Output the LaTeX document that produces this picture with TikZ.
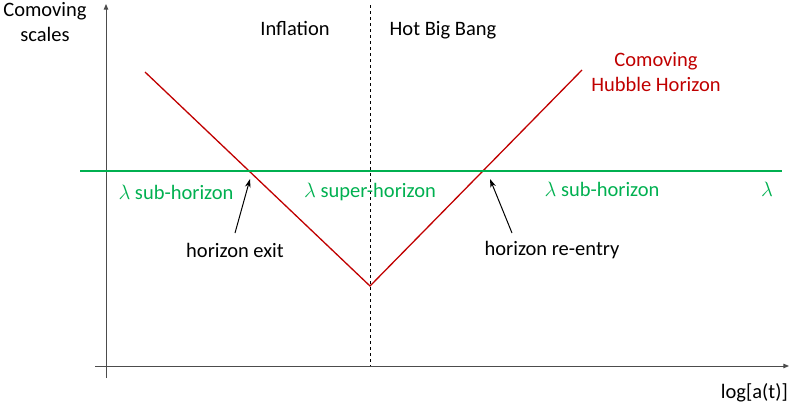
\documentclass[tikz,border=0pt]{standalone}
\usepackage{fontspec}
\setmainfont{Carlito}
\usetikzlibrary{arrows.meta,positioning,calc}
\definecolor{hubred}{RGB}{192,0,0}
\definecolor{scalegreen}{RGB}{0,176,80}
\tikzset{
axis/.style={-{Triangle[length=2mm,width=1.6mm]},line width=1pt,black!70},
label/.style={inner sep=0pt,align=center,font=\fontsize{20.5}{25}\selectfont},
horizon/.style={hubred,line width=1.3pt},
wavelength/.style={scalegreen,line width=1.8pt},
pointer/.style={-{Stealth[length=3mm,width=2mm]},line width=1pt}
}
\begin{document}
\begin{tikzpicture}[x=1pt,y=-1pt]
\useasboundingbox (0,0) rectangle (789,410);
% axes and era boundary
\coordinate (o) at (106,378);
\coordinate (ytop) at (106,4);
\coordinate (xl) at (95,366);
\coordinate (xr) at (789,366);
\coordinate (etop) at (370,5);
\coordinate (ebot) at (370,366);
\draw[axis](o)--(ytop);
\draw[axis](xl)--(xr);
\draw[dashed,line width=0.9pt](etop)--(ebot);
% comoving Hubble horizon and scale
\coordinate (hl) at (145,72);
\coordinate (hmin) at (370,286);
\coordinate (hr) at (582,70);
\coordinate (ll) at (80,171);
\coordinate (lr) at (782,171);
\draw[horizon](hl)--(hmin)--(hr);
\draw[wavelength](ll)--(lr);
% labels
\node[label](ylab) at (45,22){Comoving\\scales};
\node[label,anchor=east](xlab) at (788,393){log[a(t)]};
\node[label](infl) at (295,28){Inflation};
\node[label](hbb) at (443,30){Hot Big Bang};
\node[label,text=hubred](chh) at (656,72){Comoving\\Hubble Horizon};
\node[label,text=scalegreen](sub1) at (176,192){$\lambda$ sub-horizon};
\node[label,text=scalegreen](sup) at (370,192){$\lambda$ super-horizon};
\node[label,text=scalegreen](sub2) at (602,189){$\lambda$ sub-horizon};
\node[label,text=scalegreen](lam) at (767,189){$\lambda$};
\node[label](exit) at (235,250){horizon exit};
\node[label](reentry) at (552,250){horizon re-entry};
% pointers to the crossings
\coordinate (e0) at (235,233);
\coordinate (e1) at (250,179);
\coordinate (r0) at (512,233);
\coordinate (r1) at (490,179);
\draw[pointer](e0)--(e1);
\draw[pointer](r0)--(r1);
\end{tikzpicture}
\end{document}
